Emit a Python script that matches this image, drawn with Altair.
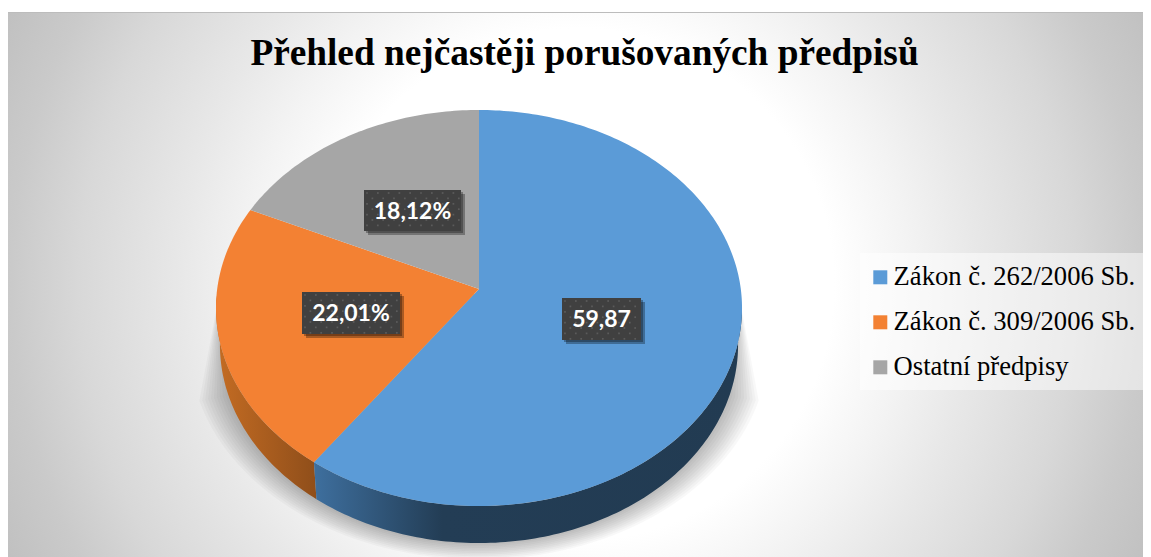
import numpy as np
import pandas as pd
import altair as alt

TITLE = "Přehled nejčastěji porušovaných předpisů"
categories = ["Zákon č. 262/2006 Sb.", "Zákon č. 309/2006 Sb.", "Ostatní předpisy"]
values = [59.87, 22.01, 18.12]
label_texts = ["59,87", "22,01%", "18,12%"]
top_colors = ["#5B9BD7", "#F38133", "#A6A6A6"]

W, H = 1135, 549
# perspective of the disc, in pixels
CX, CY, RX, RY, K = 471.0, 281.0, 261.8, 196.2, 0.096
DROP, SHRINK = 37.0, 0.985

def px(x):
    return (x - CX) / RX

def py(y):
    return (CY - y) / RY

def disc(t, grow=0.0, drop=0.0, shrink=1.0):
    t = np.radians(t)
    u, v = np.sin(t), np.cos(t)
    w = 1 + K * v
    xs = u / w * (shrink + grow / RX)
    ys = v / w * (1 + grow * 0.5 / RY) - drop / RY
    return xs, ys

starts = np.cumsum([0] + values[:-1]) * 3.6
ends = np.cumsum(values) * 3.6

# top faces
rows = []
for name, a, b in zip(categories, starts, ends):
    ts = np.linspace(a, b, int(b - a) + 2)
    xs, ys = disc(ts)
    rows.append(dict(cat=name, x=0.0, y=0.0, o=0))
    for i, (xx, yy) in enumerate(zip(xs, ys)):
        rows.append(dict(cat=name, x=float(xx), y=float(yy), o=i + 1))
top_df = pd.DataFrame(rows)

def side_frame(a, b):
    ts = np.linspace(a, b, int(b - a) + 2)
    x1, y1 = disc(ts)
    x2, y2 = disc(ts[::-1], drop=DROP, shrink=SHRINK)
    return pd.DataFrame(dict(x=np.r_[x1, x2], y=np.r_[y1, y2], o=np.arange(len(ts) * 2)))

def grad(stops):
    return alt.LinearGradient(
        gradient="linear", x1=0, x2=1, y1=0, y2=0,
        stops=[alt.GradientStop(offset=o, color=c) for o, c in stops],
    )

xscale = alt.Scale(domain=[px(0), px(W)], nice=False, zero=False)
yscale = alt.Scale(domain=[py(H), py(0)], nice=False, zero=False)
X = alt.X("x:Q", scale=xscale, axis=None)
Y = alt.Y("y:Q", scale=yscale, axis=None)

base = alt.Chart(pd.DataFrame({"a": [0]}))
bg = base.mark_rect(
    fill=alt.RadialGradient(
        gradient="radial", x1=0.502, y1=0.5, x2=0.502, y2=0.5, r1=0.0, r2=0.564,
        stops=[
            alt.GradientStop(offset=0.0, color="#ffffff"),
            alt.GradientStop(offset=0.40, color="#ffffff"),
            alt.GradientStop(offset=0.52, color="#f3f3f3"),
            alt.GradientStop(offset=0.62, color="#e8e8e8"),
            alt.GradientStop(offset=0.78, color="#d8d8d8"),
            alt.GradientStop(offset=0.885, color="#cacaca"),
            alt.GradientStop(offset=1.0, color="#bfbfbf"),
        ],
    )
).encode(x=alt.value(0), x2=alt.value(W), y=alt.value(4), y2=alt.value(H))
edge = base.mark_rule(color="#bcbcbc", strokeWidth=1).encode(
    x=alt.value(0), x2=alt.value(W), y=alt.value(4.5)
)
legend_box = base.mark_rect(fill="#ffffff", fillOpacity=0.5).encode(
    x=alt.value(852), x2=alt.value(W), y=alt.value(245), y2=alt.value(382)
)

# soft shadow under the disc
layers = [bg, edge, legend_box]
for d in np.linspace(3, 30, 10):
    ts = np.linspace(110, 250, 70)
    sx, sy = disc(ts, grow=float(d), drop=DROP, shrink=SHRINK)
    tx0, ty0 = px(CX + 260), py(CY + 5)
    tx1, ty1 = px(CX - 260), py(CY + 5)
    sdf = pd.DataFrame(dict(x=np.r_[tx0, sx, tx1], y=np.r_[ty0, sy, ty1], o=np.arange(len(ts) + 2)))
    layers.append(
        alt.Chart(sdf).mark_line(fill="#000000", fillOpacity=0.026, strokeWidth=0, interpolate="linear")
        .encode(x=X, y=Y, order="o:Q")
    )

# sides
blue_side = alt.Chart(side_frame(95, ends[0])).mark_line(
    fill=grad([(0, "#3E6F9E"), (0.3, "#233D55"), (1, "#223B52")]), strokeWidth=0
).encode(x=X, y=Y, order="o:Q")
orange_side = alt.Chart(side_frame(ends[0], 268)).mark_line(
    fill=grad([(0, "#C46C23"), (1, "#8F4E1A")]), strokeWidth=0
).encode(x=X, y=Y, order="o:Q")
layers += [orange_side, blue_side]

# top faces with legend
tops = alt.Chart(top_df).mark_line(strokeWidth=0, interpolate="linear").encode(
    x=X, y=Y, order="o:Q",
    fill=alt.Fill(
        "cat:N",
        scale=alt.Scale(domain=categories, range=top_colors),
        legend=alt.Legend(
            title=None, orient="none", legendX=844, legendY=243, symbolType="square",
            symbolSize=196, symbolStrokeWidth=0, symbolOffset=2, labelFont="Liberation Serif",
            labelFontSize=26.6, labelColor="#000000", labelOffset=0, rowPadding=18, padding=13,
            labelLimit=400,
        ),
    ),
)
layers.append(tops)

# data labels
bx1, bx2 = [562, 302, 364], [641, 400, 461]
by1, by2 = [298, 292, 190], [340, 334, 231]
boxes = pd.DataFrame(dict(
    label=label_texts,
    x1=[px(v - 8) for v in bx1],
    x2=[px(v - 8) for v in bx2],
    y1=[py(v - 8) for v in by1],
    y2=[py(v - 8) for v in by2],
    xc=[px((a + b) / 2 - 8) for a, b in zip(bx1, bx2)],
    yc=[py((a + b) / 2 - 7) for a, b in zip(by1, by2)],
))
for off, op in ((4, 0.3), (2, 0.3)):
    b2 = pd.DataFrame(dict(
        xs1=[px(v - 8 + off) for v in bx1],
        xs2=[px(v - 8 + off) for v in bx2],
        ys1=[py(v - 8 + off) for v in by1],
        ys2=[py(v - 8 + off) for v in by2],
    ))
    layers.append(
        alt.Chart(b2).mark_rect(color="#000000", opacity=op).encode(
            x=alt.X("xs1:Q", scale=xscale, axis=None), x2="xs2:Q",
            y=alt.Y("ys1:Q", scale=yscale, axis=None), y2="ys2:Q",
        )
    )
layers.append(
    alt.Chart(boxes).mark_rect(color="#404040").encode(
        x=alt.X("x1:Q", scale=xscale, axis=None), x2="x2:Q",
        y=alt.Y("y1:Q", scale=yscale, axis=None), y2="y2:Q",
    )
)
dots = []
for a, b, c, d in zip(bx1, bx2, by1, by2):
    for i, gx in enumerate(np.arange(a + 3, b - 1, 5.4)):
        for j, gy in enumerate(np.arange(c + 3, d - 1, 5.4)):
            if (i + j) % 2 == 0:
                dots.append(dict(x=px(gx - 8), y=py(gy - 8)))
layers.append(
    alt.Chart(pd.DataFrame(dots)).mark_square(size=3, color="#5E5E5E", opacity=0.9).encode(x=X, y=Y)
)
layers.append(
    alt.Chart(boxes).mark_text(
        font="Lato", fontWeight="bold", fontSize=23, color="#ffffff", align="center", baseline="middle"
    ).encode(
        x=alt.X("xc:Q", scale=xscale, axis=None),
        y=alt.Y("yc:Q", scale=yscale, axis=None),
        text="label:N",
    )
)

chart = alt.layer(*layers).properties(
    width=W, height=H, padding=0,
    autosize=alt.AutoSizeParams(type="none"),
    background="#ffffff",
    title=alt.TitleParams(
        TITLE, anchor="middle", frame="group", orient="top", offset=-94, dx=9,
        font="Liberation Serif", fontWeight="bold", fontSize=37.3, color="#000000",
        baseline="alphabetic",
    ),
).configure_view(stroke=None)

chart.save("out.html", embed_options={"renderer": "svg", "actions": False})
